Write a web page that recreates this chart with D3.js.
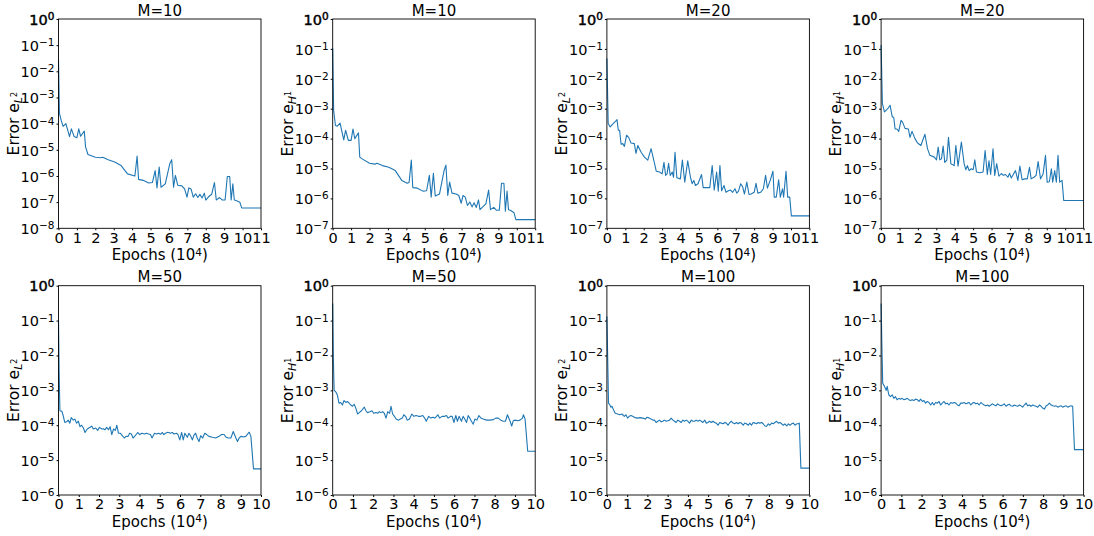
<!DOCTYPE html>
<html>
<head>
<meta charset="utf-8">
<script src="https://cdn.jsdelivr.net/npm/d3@7"></script>
<style>
    body { margin: 0; background: #fff; }
    svg { font-family: "DejaVu Sans", sans-serif; }
</style>
</head>
<body>
<svg id="chart" width="1094" height="536"></svg>
<script>
// ---- data (epochs in 10^4, errors) ----
const epochsM10 = [0,0.05,0.15,0.25,0.4,0.6,0.7,0.85,1.0,1.1,1.2,1.4,1.47,1.6,2.0,2.3,2.4,2.7,3.05,3.4,
    3.75,4.05,4.15,4.27,4.35,4.6,4.9,5.1,5.25,5.35,5.47,5.57,5.8,6.05,6.15,6.25,6.35,6.48,6.7,6.85,
    6.98,7.08,7.2,7.32,7.45,7.57,7.68,7.8,7.92,8.0,8.15,8.32,8.47,8.57,8.75,8.9,9.05,9.17,9.3,9.38,
    9.47,9.55,9.65,9.85,9.95,11]
const errL2M10 = [2.7e-2,2.5e-4,1.3e-4,7.9e-5,1.0e-4,3.2e-5,6.3e-5,3.2e-5,2.9e-5,6.3e-5,3.3e-5,5.2e-5,1.3e-5,6.6e-6,5.2e-6,5.0e-6,5.2e-6,4.2e-6,3.4e-6,2.5e-6,
    1.2e-6,1.05e-6,1.0e-6,5.8e-6,7.4e-7,6.8e-7,5.4e-7,5.6e-7,1.6e-6,3.5e-7,2.2e-6,3.7e-7,5.0e-7,3.0e-6,4.2e-6,3.7e-7,1.05e-6,4.4e-7,4.2e-7,3.2e-7,
    1.55e-7,3.5e-7,3.2e-7,1.55e-7,2.1e-7,1.5e-7,2.0e-7,1.45e-7,2.2e-7,1.2e-7,1.6e-7,2.0e-7,5.6e-7,1.2e-7,1.5e-7,1.2e-7,1.2e-7,9.5e-7,9.5e-7,1.2e-7,
    5.0e-7,1.2e-7,1.15e-7,1.0e-7,6.0e-8,6.0e-8]
const errH1M10 = [1.05e-1,8.9e-4,2.75e-4,2.6e-4,3.3e-4,9.1e-5,1.9e-4,8.7e-5,8.7e-5,2.1e-4,1.0e-4,1.55e-4,2.4e-5,2.1e-5,1.5e-5,1.4e-5,1.5e-5,1.25e-5,1.1e-5,8.5e-6,
    4.0e-6,3.2e-6,3.4e-6,1.9e-5,2.3e-6,2.2e-6,1.75e-6,1.8e-6,5.9e-6,1.1e-6,6.9e-6,1.2e-6,1.4e-6,8.5e-6,1.3e-5,1.25e-6,3.5e-6,1.5e-6,1.4e-6,1.25e-6,
    6.9e-7,1.25e-6,1.1e-6,5.8e-7,7.6e-7,5.2e-7,7.1e-7,5.0e-7,8.9e-7,4.2e-7,5.2e-7,6.6e-7,1.9e-6,4.2e-7,5.0e-7,4.0e-7,4.0e-7,3.2e-6,3.2e-6,3.7e-7,
    1.75e-6,4.2e-7,4.0e-7,3.3e-7,1.95e-7,1.95e-7]

const epochsM20L2 = [0,0.07,0.18,0.3,0.49,0.55,0.62,0.69,0.77,0.86,0.95,1.07,1.18,1.31,1.49,1.58,1.68,1.86,2.04,2.22,
    2.4,2.59,2.68,2.86,3.0,3.1,3.19,3.27,3.35,3.44,3.55,3.62,3.7,3.8,3.99,4.1,4.23,4.39,4.54,4.63,
    4.72,4.81,4.95,5.14,5.23,5.41,5.59,5.72,5.83,5.96,6.05,6.14,6.23,6.36,6.47,6.6,6.72,6.83,6.96,7.05,
    7.15,7.27,7.38,7.47,7.6,7.72,7.83,8.0,8.1,8.2,8.35,8.5,8.62,8.72,8.87,9.02,9.09,9.2,9.33,9.42,
    9.54,9.6,9.73,9.82,9.93,10.02,11]
const errL2M20 = [4.8e-2,3.2e-4,2.45e-4,3.0e-4,3.9e-4,4.3e-4,1.9e-4,1.9e-4,6.5e-5,6.8e-5,5.5e-5,1.3e-4,1.1e-4,7.1e-5,6.8e-5,3.2e-5,5.9e-5,3.5e-5,2.4e-5,1.9e-5,
    4.6e-5,1.45e-5,8.1e-6,7.6e-6,6.6e-6,1.6e-5,5.9e-6,6.6e-6,1.5e-5,5.9e-6,7.6e-6,5.1e-6,3.5e-5,4.9e-6,4.5e-6,1.9e-5,3.5e-6,1.8e-5,5.1e-6,3.1e-6,
    4.0e-6,2.7e-6,3.1e-6,6.3e-6,2.3e-6,2.3e-6,2.3e-6,1.25e-5,1.9e-6,7.6e-6,1.75e-6,1.25e-5,1.8e-6,2.7e-6,1.6e-6,1.8e-6,1.9e-6,1.6e-6,2.1e-6,1.5e-6,
    1.75e-6,3.1e-6,2.4e-6,1.4e-6,3.5e-6,1.35e-6,1.4e-6,1.6e-6,3.2e-6,1.5e-6,1.6e-6,2.1e-6,5.9e-6,2.2e-6,4.0e-6,8.1e-6,1.1e-6,1.1e-6,4.2e-6,1.1e-6,
    2.1e-6,1.1e-6,8.1e-6,1.1e-6,1.1e-6,2.6e-7,2.6e-7]

const epochsM20H1 = [0,0.07,0.18,0.36,0.49,0.6,0.69,0.76,0.86,0.96,1.08,1.17,1.3,1.48,1.57,1.68,1.84,1.98,2.16,2.38,
    2.52,2.65,2.89,3.01,3.1,3.19,3.28,3.37,3.46,3.57,3.66,3.79,3.97,4.06,4.18,4.36,4.51,4.6,4.69,4.78,
    4.9,5.0,5.09,5.18,5.36,5.54,5.65,5.77,5.86,5.95,6.08,6.17,6.28,6.4,6.53,6.64,6.76,6.89,6.98,7.07,
    7.21,7.3,7.43,7.54,7.66,7.79,7.94,8.06,8.15,8.3,8.42,8.53,8.66,8.8,8.93,9.02,9.14,9.25,9.32,9.43,
    9.52,9.61,9.7,9.83,9.92,11]
const errH1M20 = [1.35e-1,1.5e-3,7.8e-4,1.0e-3,1.3e-3,5.5e-4,5.0e-4,2.1e-4,2.1e-4,1.75e-4,4.1e-4,3.5e-4,2.2e-4,2.1e-4,1.1e-4,1.75e-4,1.0e-4,7.1e-5,5.9e-5,1.4e-4,
    4.6e-5,2.75e-5,2.4e-5,1.95e-5,5.2e-5,1.95e-5,2.1e-5,5.6e-5,1.6e-5,1.9e-5,1.1e-4,1.45e-5,1.25e-5,5.9e-5,1.2e-5,7.6e-5,1.45e-5,9.1e-6,1.25e-5,8.5e-6,
    9.8e-6,9.1e-6,1.95e-5,7.6e-6,7.2e-6,7.6e-6,4.0e-5,6.3e-6,1.8e-5,6.3e-6,4.6e-5,5.9e-6,1.45e-5,5.5e-6,6.8e-6,5.9e-6,6.3e-6,5.1e-6,6.9e-6,4.8e-6,
    6.8e-6,8.5e-6,4.0e-6,1.2e-5,4.2e-6,4.5e-6,4.5e-6,1.1e-5,4.5e-6,5.1e-6,5.9e-6,1.7e-5,4.5e-6,6.6e-6,2.75e-5,3.5e-6,3.6e-6,9.8e-6,3.5e-6,8.5e-6,
    3.5e-6,2.75e-5,3.5e-6,4.0e-6,8.5e-7,8.5e-7]

const epochsM50L2 = [0,0.03,0.07,0.17,0.23,0.31,0.4,0.48,0.56,0.63,0.73,0.81,0.89,0.98,1.06,1.14,1.23,1.31,1.42,1.56,
    1.64,1.72,1.84,1.94,2.02,2.14,2.22,2.3,2.38,2.47,2.55,2.63,2.72,2.81,2.88,2.96,3.05,3.13,3.25,3.34,
    3.44,3.51,3.6,3.68,3.79,3.91,4.01,4.12,4.24,4.34,4.45,4.54,4.62,4.74,4.84,4.95,5.04,5.13,5.2,5.28,
    5.4,5.53,5.62,5.7,5.83,5.9,5.99,6.08,6.16,6.24,6.36,6.44,6.52,6.61,6.69,6.77,6.85,6.94,7.02,7.12,
    7.22,7.32,7.43,7.6,7.76,7.93,8.05,8.18,8.26,8.38,8.51,8.63,8.76,8.84,8.92,9.0,9.14,9.25,9.37,9.42,
    9.5,9.63,10]
const errL2M50 = [1.05e-1,3.9e-3,2.6e-4,2.5e-4,1.9e-4,1.2e-4,1.25e-4,1.4e-4,1.15e-4,1.65e-4,1.4e-4,1.5e-4,1.15e-4,1.3e-4,9.1e-5,1.0e-4,8.3e-5,6.2e-5,7.8e-5,8.7e-5,
    9.5e-5,7.8e-5,8.3e-5,7.1e-5,8.7e-5,7.8e-5,7.9e-5,7.4e-5,8.7e-5,7.4e-5,9.1e-5,5.4e-5,7.8e-5,7.1e-5,1.0e-4,5.9e-5,5.9e-5,5.2e-5,4.3e-5,4.8e-5,
    4.8e-5,5.9e-5,5.6e-5,4.3e-5,5.0e-5,6.2e-5,5.4e-5,5.9e-5,5.6e-5,5.9e-5,5.6e-5,5.4e-5,4.3e-5,5.9e-5,5.6e-5,5.9e-5,5.5e-5,6.2e-5,5.4e-5,5.9e-5,
    6.3e-5,5.9e-5,6.2e-5,5.6e-5,5.9e-5,5.4e-5,3.8e-5,6.2e-5,3.8e-5,5.9e-5,4.5e-5,5.9e-5,5.0e-5,3.8e-5,5.2e-5,5.9e-5,4.3e-5,3.4e-5,5.0e-5,4.3e-5,
    5.9e-5,5.4e-5,4.8e-5,4.5e-5,4.3e-5,4.8e-5,5.4e-5,5.4e-5,4.6e-5,4.3e-5,4.3e-5,6.6e-5,4.3e-5,3.4e-5,4.3e-5,4.8e-5,4.6e-5,4.8e-5,5.9e-5,6.3e-5,
    4.8e-5,5.6e-6,5.6e-6]

const epochsM50H1 = [0,0.03,0.07,0.17,0.23,0.31,0.4,0.48,0.56,0.65,0.73,0.81,0.89,0.98,1.06,1.14,1.23,1.31,1.42,1.56,
    1.64,1.72,1.84,1.94,2.02,2.14,2.22,2.3,2.38,2.47,2.55,2.63,2.72,2.81,2.88,2.96,3.05,3.13,3.25,3.34,
    3.44,3.51,3.6,3.68,3.79,3.91,4.01,4.12,4.24,4.34,4.45,4.54,4.62,4.74,4.84,4.95,5.04,5.13,5.19,5.28,
    5.4,5.53,5.62,5.7,5.83,5.9,5.99,6.08,6.16,6.24,6.36,6.44,6.52,6.61,6.69,6.77,6.85,6.94,7.02,7.12,
    7.22,7.32,7.43,7.6,7.76,7.93,8.05,8.18,8.3,8.43,8.53,8.63,8.76,8.84,8.92,9.0,9.14,9.25,9.37,9.42,
    9.5,9.63,10]
const errH1M50 = [3.1e-1,9.3e-3,1.02e-3,8.7e-4,7.4e-4,4.3e-4,4.5e-4,3.8e-4,5.1e-4,4.5e-4,4.8e-4,4.3e-4,3.8e-4,3.5e-4,4.0e-4,3.1e-4,2.1e-4,2.3e-4,2.6e-4,3.3e-4,
    2.6e-4,2.3e-4,2.45e-4,2.6e-4,2.2e-4,2.3e-4,2.2e-4,2.45e-4,2.3e-4,2.45e-4,2.2e-4,1.6e-4,2.45e-4,2.2e-4,3.5e-4,2.1e-4,1.8e-4,1.5e-4,1.4e-4,1.5e-4,
    1.6e-4,2.0e-4,1.8e-4,1.4e-4,1.5e-4,2.1e-4,1.8e-4,1.9e-4,1.8e-4,1.8e-4,1.9e-4,1.6e-4,1.3e-4,1.8e-4,1.6e-4,1.7e-4,1.6e-4,1.8e-4,2.0e-4,1.6e-4,
    1.8e-4,1.8e-4,1.9e-4,1.6e-4,1.8e-4,1.8e-4,1.2e-4,1.9e-4,1.3e-4,1.8e-4,1.3e-4,1.8e-4,1.5e-4,1.2e-4,1.9e-4,1.6e-4,1.3e-4,1.07e-4,1.5e-4,1.4e-4,
    1.9e-4,1.6e-4,1.5e-4,1.4e-4,1.4e-4,1.45e-4,1.6e-4,1.6e-4,1.4e-4,1.3e-4,1.3e-4,2.0e-4,1.3e-4,9.5e-5,1.35e-4,1.4e-4,1.35e-4,1.4e-4,1.6e-4,2.0e-4,
    1.5e-4,1.8e-5,1.8e-5]

const epochsM100L2 = [0,0.05,0.08,0.15,0.2,0.25,0.33,0.41,0.53,0.64,0.74,0.86,0.94,1.02,1.1,1.19,1.27,1.4,1.52,1.64,
    1.77,1.9,1.98,2.1,2.18,2.27,2.35,2.43,2.51,2.6,2.68,2.76,2.84,2.93,3.01,3.09,3.17,3.26,3.34,3.42,
    3.5,3.59,3.67,3.75,3.83,3.92,4.0,4.08,4.17,4.25,4.33,4.41,4.5,4.58,4.66,4.74,4.83,4.91,4.99,5.07,
    5.16,5.24,5.32,5.4,5.49,5.57,5.65,5.74,5.82,5.9,5.98,6.07,6.15,6.23,6.31,6.4,6.48,6.56,6.64,6.73,
    6.81,6.89,6.98,7.06,7.14,7.22,7.31,7.39,7.47,7.55,7.64,7.72,7.8,7.88,7.97,8.05,8.13,8.21,8.3,8.38,
    8.46,8.55,8.63,8.71,8.79,8.88,8.96,9.04,9.12,9.21,9.29,9.37,9.45,9.5,9.58,10]
const errL2M100 = [1.3e-1,3.9e-3,4.3e-4,3.8e-4,3.3e-4,3.5e-4,2.75e-4,2.2e-4,2.1e-4,2.0e-4,2.1e-4,1.8e-4,2.0e-4,1.6e-4,1.8e-4,1.9e-4,1.8e-4,1.65e-4,1.6e-4,1.65e-4,
    1.6e-4,1.5e-4,1.7e-4,1.6e-4,1.5e-4,1.4e-4,1.4e-4,1.2e-4,1.3e-4,1.4e-4,1.25e-4,1.3e-4,1.4e-4,1.3e-4,1.35e-4,1.4e-4,1.6e-4,1.4e-4,1.3e-4,1.2e-4,
    1.4e-4,1.3e-4,1.2e-4,1.4e-4,1.3e-4,1.4e-4,1.3e-4,1.15e-4,1.4e-4,1.3e-4,1.3e-4,1.4e-4,1.3e-4,1.4e-4,1.3e-4,1.2e-4,1.4e-4,1.15e-4,1.2e-4,1.3e-4,
    1.2e-4,1.3e-4,1.2e-4,1.15e-4,1.0e-4,1.2e-4,1.15e-4,1.1e-4,1.2e-4,1.15e-4,1.0e-4,1.2e-4,1.3e-4,1.15e-4,1.1e-4,1.2e-4,1.1e-4,1.2e-4,1.15e-4,1.0e-4,
    1.15e-4,1.1e-4,1.0e-4,1.15e-4,1.0e-4,1.2e-4,1.15e-4,1.1e-4,1.2e-4,1.15e-4,1.2e-4,1.1e-4,9.5e-5,9.3e-5,1.1e-4,1.0e-4,1.15e-4,1.1e-4,1.2e-4,1.3e-4,
    1.15e-4,1.2e-4,1.1e-4,1.0e-4,1.1e-4,9.5e-5,1.1e-4,1.0e-4,1.1e-4,1.15e-4,1.0e-4,1.1e-4,1.1e-4,1.15e-4,5.9e-6,5.9e-6]

const epochsM100H1 = [0,0.05,0.08,0.17,0.25,0.3,0.38,0.46,0.55,0.63,0.71,0.79,0.88,0.96,1.04,1.12,1.21,1.29,1.37,1.45,
    1.54,1.62,1.7,1.79,1.87,1.95,2.04,2.12,2.2,2.28,2.36,2.45,2.53,2.61,2.69,2.78,2.86,2.94,3.02,3.11,
    3.19,3.27,3.35,3.44,3.52,3.6,3.69,3.77,3.85,3.93,4.02,4.1,4.18,4.26,4.35,4.43,4.51,4.6,4.68,4.76,
    4.84,4.93,5.01,5.09,5.17,5.26,5.34,5.42,5.5,5.59,5.67,5.75,5.83,5.92,6.0,6.08,6.17,6.25,6.33,6.41,
    6.5,6.58,6.66,6.74,6.83,6.91,6.99,7.07,7.16,7.24,7.32,7.4,7.49,7.57,7.65,7.74,7.82,7.9,7.98,8.07,
    8.15,8.23,8.31,8.4,8.48,8.56,8.64,8.73,8.81,8.89,8.97,9.06,9.14,9.22,9.31,9.39,9.46,9.55,10]
const errH1M100 = [3.1e-1,9.3e-3,1.6e-3,1.3e-3,1.0e-3,1.3e-3,7.4e-4,6.6e-4,7.4e-4,5.9e-4,6.6e-4,5.4e-4,5.9e-4,5.6e-4,5.9e-4,5.4e-4,5.6e-4,5.9e-4,5.4e-4,5.1e-4,
    5.4e-4,5.1e-4,5.6e-4,5.4e-4,4.8e-4,5.6e-4,4.8e-4,5.1e-4,4.3e-4,4.8e-4,4.5e-4,3.8e-4,4.5e-4,3.8e-4,4.5e-4,4.3e-4,4.8e-4,3.8e-4,4.3e-4,4.8e-4,
    4.1e-4,4.3e-4,3.8e-4,4.5e-4,4.3e-4,4.5e-4,4.3e-4,3.8e-4,3.6e-4,4.3e-4,4.3e-4,4.5e-4,4.1e-4,4.3e-4,4.5e-4,3.8e-4,4.3e-4,4.5e-4,4.1e-4,4.3e-4,
    3.8e-4,4.5e-4,4.1e-4,3.8e-4,3.6e-4,3.8e-4,3.5e-4,3.8e-4,4.1e-4,3.8e-4,3.6e-4,4.1e-4,3.8e-4,3.6e-4,3.8e-4,4.1e-4,3.5e-4,3.8e-4,4.0e-4,3.6e-4,
    3.5e-4,3.8e-4,3.6e-4,3.5e-4,3.8e-4,3.6e-4,3.3e-4,3.8e-4,4.3e-4,3.6e-4,3.8e-4,3.5e-4,3.8e-4,3.6e-4,3.5e-4,3.3e-4,3.8e-4,3.5e-4,3.1e-4,2.9e-4,
    3.6e-4,3.8e-4,4.3e-4,3.8e-4,3.6e-4,3.5e-4,3.6e-4,3.3e-4,3.5e-4,3.6e-4,3.3e-4,3.5e-4,3.6e-4,3.3e-4,3.5e-4,3.6e-4,3.5e-4,2.0e-5,2.0e-5]

// panel titles and tick labels
const titles = ["M=10", "M=10", "M=20", "M=20", "M=50", "M=50", "M=100", "M=100"]
const errorKinds = ["L", "H", "L", "H", "L", "H", "L", "H"]
const xTicksTop = [0, 1, 2, 3, 4, 5, 6, 7, 8, 9, 10, 11]
const xTicksBottom = [0, 1, 2, 3, 4, 5, 6, 7, 8, 9, 10]
const yExpTo8 = [0, -1, -2, -3, -4, -5, -6, -7, -8]
const yExpTo7 = [0, -1, -2, -3, -4, -5, -6, -7]
const yExpTo6 = [0, -1, -2, -3, -4, -5, -6]

const panels = [
    { epochs: epochsM10, values: errL2M10, xTicks: xTicksTop, yExp: yExpTo8 },
    { epochs: epochsM10, values: errH1M10, xTicks: xTicksTop, yExp: yExpTo7 },
    { epochs: epochsM20L2, values: errL2M20, xTicks: xTicksTop, yExp: yExpTo7 },
    { epochs: epochsM20H1, values: errH1M20, xTicks: xTicksTop, yExp: yExpTo7 },
    { epochs: epochsM50L2, values: errL2M50, xTicks: xTicksBottom, yExp: yExpTo6 },
    { epochs: epochsM50H1, values: errH1M50, xTicks: xTicksBottom, yExp: yExpTo6 },
    { epochs: epochsM100L2, values: errL2M100, xTicks: xTicksBottom, yExp: yExpTo6 },
    { epochs: epochsM100H1, values: errH1M100, xTicks: xTicksBottom, yExp: yExpTo6 }
]

// ---- layout ----
let lefts = [58.5, 332.7, 606.9, 881.1]
let tops = [19, 285.7]
let W = 202.5, H = 209.3
let svg = d3.select("#chart")

function drawPanel(p, i) {
    let col = i % 4, row = Math.floor(i / 4)
    let g = svg.append("g")
        .attr("transform", `translate(${lefts[col]},${tops[row]})`)

    let xMax = d3.max(p.xTicks)
    let yMinExp = d3.min(p.yExp)
    let x = d3.scaleLinear().domain([0, xMax]).range([0, W])
    let y = d3.scaleLog().domain([Math.pow(10, yMinExp), 1]).range([H, 0])

    // x axis
    let xAxis = d3.axisBottom(x).tickValues(p.xTicks).tickSize(2).tickPadding(2)
    let gx = g.append("g").attr("transform", `translate(0,${H})`).call(xAxis)
    gx.select(".domain").remove()
    gx.selectAll("text").style("font-size", "14.5px").style("font-family", "DejaVu Sans").attr("fill", "#000")

    // y axis with 10^k labels
    let yAxis = d3.axisLeft(y).tickValues(p.yExp.map(e => Math.pow(10, e)))
        .tickSize(2).tickPadding(2).tickFormat("")
    let gy = g.append("g").call(yAxis)
    gy.select(".domain").remove()
    gy.selectAll(".tick").each(function (d, k) {
        let e = p.yExp[k]
        let t = d3.select(this).select("text")
            .style("font-size", "14.5px").style("font-family", "DejaVu Sans")
            .attr("fill", "#000").attr("dy", "0.36em")
        t.append("tspan").text("10")
        t.append("tspan").attr("dy", "-0.45em").style("font-size", "10.5px")
            .text(e === 0 ? "0" : "\u2212" + (-e))
        if (e === 0) t.attr("stroke", "#000").attr("stroke-width", 0.45)
    })

    // data line
    let line = d3.line().x(d => x(d[0])).y(d => y(d[1]))
    g.append("path")
        .datum(d3.zip(p.epochs, p.values))
        .attr("d", line)
        .attr("fill", "none")
        .attr("stroke", "#1f77b4")
        .attr("stroke-width", 1.1)
        .attr("stroke-linejoin", "round")

    // frame
    g.append("rect").attr("width", W).attr("height", H)
        .attr("fill", "none").attr("stroke", "#000").attr("stroke-width", 0.9)

    // title
    g.append("text").attr("x", W / 2).attr("y", -3.5)
        .attr("text-anchor", "middle").style("font-size", "15px")
        .text(titles[i])

    // x label
    let xl = g.append("text").attr("x", W / 2).attr("y", H + 32)
        .attr("text-anchor", "middle").style("font-size", "15px")
    xl.append("tspan").text("Epochs (10")
    xl.append("tspan").attr("dy", "-0.45em").style("font-size", "10.5px").text("4")
    xl.append("tspan").attr("dy", "0.32em").text(")")

    // y label
    let yl = g.append("text")
        .attr("transform", `translate(-40,${H / 2}) rotate(-90)`)
        .attr("text-anchor", "middle").style("font-size", "15.5px")
    yl.append("tspan").text("Error e")
    yl.append("tspan").attr("dy", "0.3em").style("font-size", "11px")
        .style("font-style", "italic").text(errorKinds[i])
    yl.append("tspan").attr("dy", "-0.6em").style("font-size", "8px")
        .text(errorKinds[i] === "L" ? "2" : "1")
}

panels.forEach(drawPanel)
</script>
</body>
</html>
